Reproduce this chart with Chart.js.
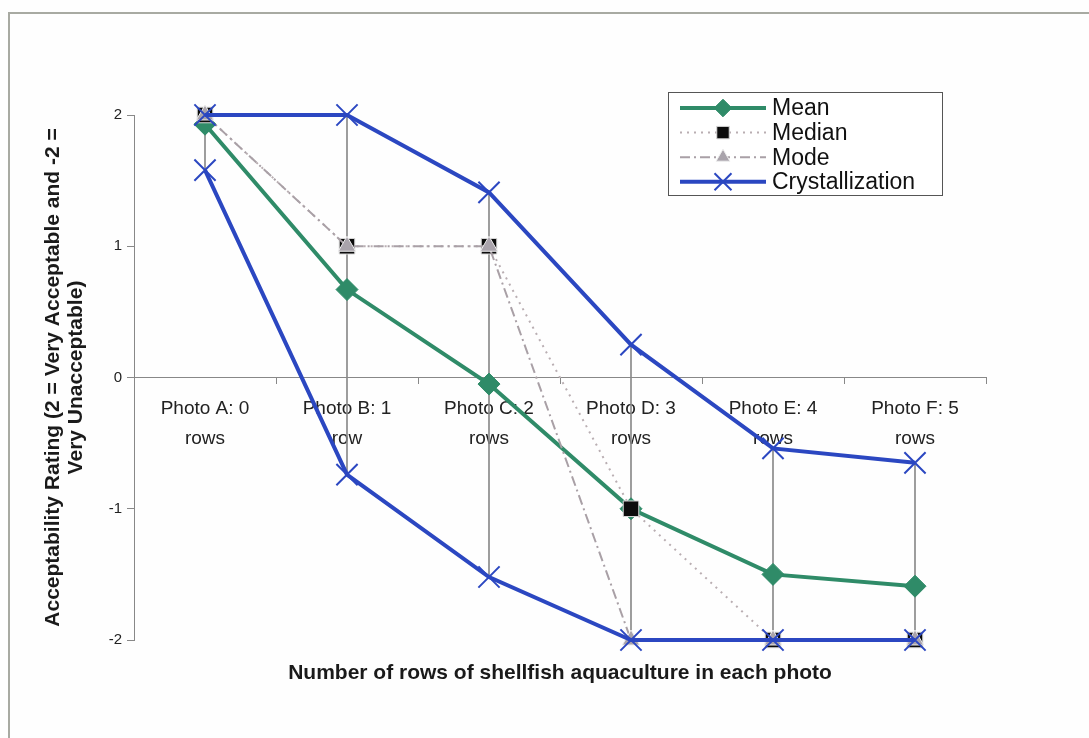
<!DOCTYPE html>
<html>
<head>
<meta charset="utf-8">
<script src="https://cdn.jsdelivr.net/npm/chart.js@4.4.1/dist/chart.umd.min.js"></script>
<style>
  html, body { margin:0; padding:0; background:#fefefe; }
  #wrap { position:relative; width:1089px; height:738px; }
  #frame { position:absolute; left:8px; top:12px; right:0; bottom:0;
           border-top:2px solid #a8aaa2; border-left:2px solid #a8aaa2; pointer-events:none; }
</style>
</head>
<body>
<div id="wrap">
  <canvas id="myLine" width="1089" height="738"></canvas>
  <div id="frame"></div>
</div>
<script>
// data
let photos = [["Photo A: 0","rows"],["Photo B: 1","row"],["Photo C: 2","rows"],["Photo D: 3","rows"],["Photo E: 4","rows"],["Photo F: 5","rows"]];
let meanVals = [1.93, 0.67, -0.05, -1.0, -1.5, -1.59];
let medianVals = [2, 1, 1, -1, -2, -2];
let modeVals = [2, 1, 1, -2, -2, -2];
let crystHigh = [2, 2, 1.41, 0.25, -0.54, -0.65];
let crystLow = [1.58, -0.74, -1.52, -2, -2, -2];
let yTicks = [-2, -1, 0, 1, 2];

// high-low lines span every series at each photo
let allSeries = [meanVals, medianVals, modeVals, crystHigh, crystLow];
let hiLo = photos.map((p, i) => {
  let vals = allSeries.map(s => s[i]);
  return [Math.min(...vals), Math.max(...vals)];
});

Chart.defaults.font.family = "'Liberation Sans', Arial, sans-serif";
Chart.defaults.color = '#1a1a1a';

// boxed legend with a line sample and marker, like the spreadsheet one
const boxLegend = {
  id: 'boxLegend',
  afterDraw(chart, args, o) {
    const ctx = chart.ctx;
    ctx.save();
    ctx.fillStyle = '#fff';
    ctx.fillRect(o.x, o.y, o.w, o.h);
    ctx.strokeStyle = '#555';
    ctx.lineWidth = 1;
    ctx.strokeRect(o.x + 0.5, o.y + 0.5, o.w, o.h);
    let rowY = o.y + o.first;
    chart.data.datasets.forEach(ds => {
      if (!ds.inLegend) return;
      ctx.save();
      ctx.strokeStyle = ds.borderColor;
      ctx.lineWidth = ds.borderWidth;
      ctx.setLineDash(ds.borderDash || []);
      ctx.beginPath();
      ctx.moveTo(o.x + 12, rowY);
      ctx.lineTo(o.x + 98, rowY);
      ctx.stroke();
      ctx.restore();
      ctx.save();
      ctx.setLineDash([]);
      ctx.fillStyle = ds.pointBackgroundColor || ds.borderColor;
      ctx.strokeStyle = ds.pointBorderColor || ds.borderColor;
      ctx.lineWidth = ds.pointBorderWidth || 1;
      Chart.helpers.drawPoint(ctx, {
        pointStyle: ds.pointStyle, rotation: 0,
        radius: ds.pointRadius * 0.8, borderWidth: ds.pointBorderWidth || 1
      }, o.x + 55, rowY);
      ctx.restore();
      ctx.fillStyle = '#111';
      ctx.font = o.font;
      ctx.textBaseline = 'middle';
      ctx.fillText(ds.label, o.x + 104, rowY + 1);
      rowY += o.step;
    });
    ctx.restore();
  }
};

let a = document.getElementById("myLine");
let lineChart = new Chart(a, {
  type: 'line',
  data: {
    labels: photos,
    datasets: [{
      label: "Mean",
      data: meanVals,
      inLegend: true,
      borderColor: "#2f8b68",
      borderWidth: 4,
      pointStyle: 'rectRot',
      pointRadius: 11,
      pointBackgroundColor: "#2f8b68",
      pointBorderColor: "#2f8b68",
      pointBorderWidth: 1,
      clip: false,
      order: 3
    }, {
      label: "Median",
      data: medianVals,
      inLegend: true,
      borderColor: "#b9aeb2",
      borderWidth: 2,
      borderDash: [2, 5],
      pointStyle: 'rect',
      pointRadius: 11,
      pointBackgroundColor: "#0c0c0c",
      pointBorderColor: "#d8d8d8",
      pointBorderWidth: 1,
      clip: false,
      order: 2
    }, {
      label: "Mode",
      data: modeVals,
      inLegend: true,
      borderColor: "#a9a0a6",
      borderWidth: 2,
      borderDash: [10, 4, 2, 4],
      pointStyle: 'triangle',
      pointRadius: 10,
      pointBackgroundColor: "#a9a3ab",
      pointBorderColor: "#eeeeee",
      pointBorderWidth: 1,
      clip: false,
      order: 1
    }, {
      label: "Crystallization",
      data: crystHigh,
      inLegend: true,
      borderColor: "#2b47c1",
      borderWidth: 4,
      pointStyle: 'crossRot',
      pointRadius: 15,
      pointBorderWidth: 2,
      pointBorderColor: "#2b47c1",
      pointBackgroundColor: "#2b47c1",
      clip: false,
      order: 0
    }, {
      label: "Crystallization low",
      data: crystLow,
      borderColor: "#2b47c1",
      borderWidth: 4,
      pointStyle: 'crossRot',
      pointRadius: 15,
      pointBorderWidth: 2,
      pointBorderColor: "#2b47c1",
      clip: false,
      order: 0
    }, {
      type: 'bar',
      label: "High-low",
      data: hiLo,
      backgroundColor: "#8a8a8a",
      barThickness: 1,
      borderWidth: 0,
      order: 5
    }]
  },
  options: {
    responsive: false,
    animation: false,
    layout: { padding: { left: 0, top: 115, right: 103, bottom: 0 } },
    plugins: {
      legend: { display: false },
      tooltip: { enabled: false },
      boxLegend: { x: 668, y: 92, w: 274, h: 103, first: 16, step: 24.6, font: "23px 'Liberation Sans', Arial, sans-serif" }
    },
    scales: {
      x: {
        type: 'category',
        position: { y: 0 },
        offset: true,
        afterFit: s => { s.height = 0; },
        ticks: { font: { size: 19, lineHeight: 1.55 }, color: '#222', padding: 11, maxRotation: 0, autoSkip: false },
        grid: { offset: true, drawOnChartArea: false, tickLength: 6, color: '#888' },
        border: { color: '#888', width: 1 }
      },
      x2: {
        type: 'category',
        position: 'bottom',
        afterFit: s => { s.height = 98; },
        grid: { display: false },
        border: { display: false },
        ticks: { display: false },
        title: {
          display: true,
          text: 'Number of rows of shellfish aquaculture in each photo',
          font: { size: 21, weight: 'bold' },
          color: '#1a1a1a',
          padding: { top: 0, bottom: 52 }
        }
      },
      y: {
        min: -2,
        max: 2,
        afterFit: s => { s.width = 134; },
        afterBuildTicks: s => { s.ticks = yTicks.map(v => ({ value: v })); },
        ticks: { font: { size: 15 }, color: '#222', padding: 5 },
        grid: { drawOnChartArea: false, tickLength: 7, color: '#888' },
        border: { color: '#888', width: 1 },
        title: {
          display: true,
          text: ['Acceptability Rating (2 = Very Acceptable and -2 =', 'Very Unacceptable)'],
          font: { size: 21, weight: 'bold', lineHeight: 1.1 },
          color: '#1a1a1a',
          padding: { top: 42, bottom: 0 }
        }
      }
    }
  },
  plugins: [boxLegend]
});
</script>
</body>
</html>
